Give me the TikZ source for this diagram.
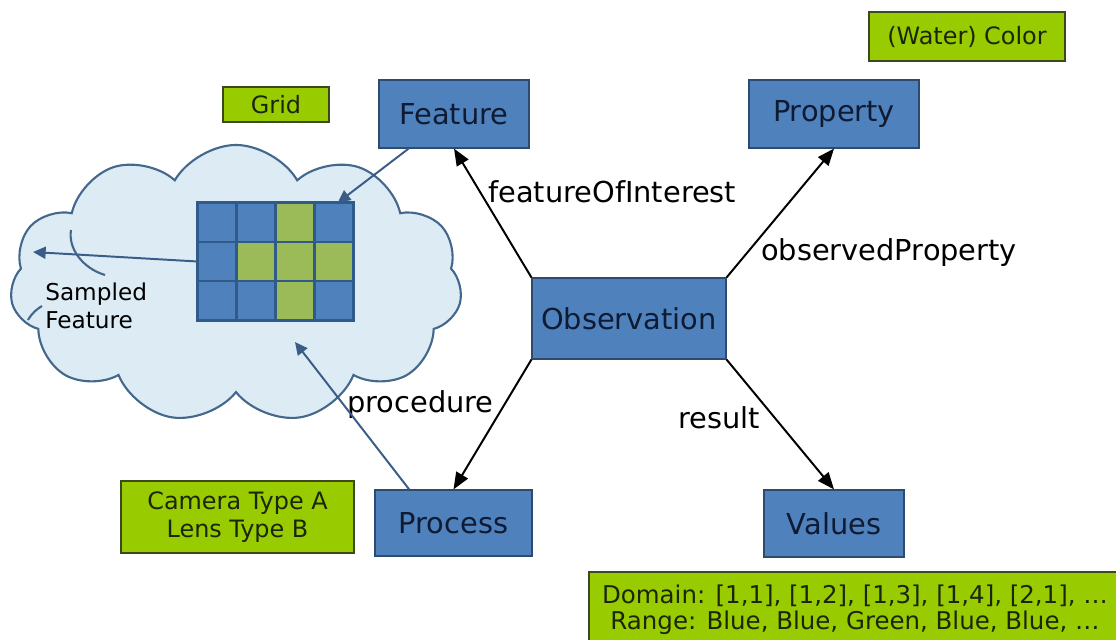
\documentclass[tikz,border=0pt]{standalone}
\usepackage{fontspec}
\setmainfont{DejaVu Sans}
\usetikzlibrary{
	arrows.meta,
	shapes.symbols,
	calc
}
\definecolor{boxblue}{HTML}{4F81BD}
\definecolor{boxline}{HTML}{2E4A6E}
\definecolor{boxtext}{HTML}{0F1A33}
\definecolor{notegreen}{HTML}{99CC00}
\definecolor{noteline}{HTML}{3B4A1E}
\definecolor{notetext}{HTML}{1B2608}
\definecolor{cloudfill}{HTML}{DDEBF5}
\definecolor{cloudline}{HTML}{44678C}
\definecolor{cellgreen}{HTML}{9BBB59}
\definecolor{gridline}{HTML}{2F5A8A}
\definecolor{linkblue}{HTML}{3A5D88}
\tikzset{
	classbox/.style={draw=boxline,thick,fill=boxblue,text=boxtext,font=\fontsize{20.5}{24}\selectfont},
	notebox/.style={draw=noteline,thick,fill=notegreen,text=notetext,align=center,font=\fontsize{17}{19.5}\selectfont},
	rolelabel/.style={anchor=base west,inner sep=0pt,font=\fontsize{20.5}{24}\selectfont},
	rolearrow/.style={->,>={Triangle[length=12pt,width=9.5pt]},line width=1.4pt},
	samplink/.style={->,>={Triangle[length=9pt,width=8.5pt]},draw=linkblue,line width=1.4pt},
	cloudstub/.style={draw=cloudline,line width=1.5pt}
}

\begin{document}
\begin{tikzpicture}[x=0.025cm,y=-0.025cm]
    \useasboundingbox (0,0) rectangle (1116,639);
    \clip (0,0) rectangle (1116,639);
    % Definitions
    \coordinate (OB) at (629,318.5);
    \coordinate (FE) at (454,114);
    \coordinate (PR) at (834,114);
    \coordinate (PC) at (453.5,523);
    \coordinate (VA) at (834,523.5);
    \coordinate (WC) at (967,36.5);
    \coordinate (GL) at (276,104.5);
    \coordinate (CT) at (237.5,517);
    \coordinate (DR) at (855,610);
    \coordinate (CL) at (236,284);
    \coordinate (GR) at (275.5,261.5);
    \coordinate (SaLe) at (33,252);
    \coordinate (SaIn) at (295,342);
    % Cloud and grid
    \node(SaFe) at (CL) [cloud,cloud puffs=11,cloud puff arc=120,aspect=1.63,draw=cloudline,line width=1.5pt,fill=cloudfill,minimum width=11.3cm,minimum height=6.95cm] {};
    \draw[cloudstub] (71,230) .. controls (68,248) and (82,268) .. (105,275);
    \draw[cloudstub] (28,320) .. controls (32,313) and (37,309) .. (42,306);
    \node(Grid) at (GR) [fill=boxblue,minimum width=3.875cm,minimum height=2.925cm] {};
    \foreach \c/\r in {3/1,2/2,3/2,4/2,3/3}
        \fill[cellgreen] ({198+(\c-1)*38.75},{203+(\r-1)*39}) rectangle +(38.75,39);
    \foreach \c in {1,2,3}
        \draw[gridline,line width=2pt] ({198+\c*38.75},203) -- +(0,117);
    \foreach \r in {1,2}
        \draw[gridline,line width=2pt] (198,{203+\r*39}) -- +(155,0);
    \draw[gridline,line width=2pt] (Grid.north west) rectangle (Grid.south east);
    \node(SaTx) at (45,306) [anchor=west,align=left,inner sep=0pt,font=\fontsize{16.5}{20}\selectfont] {Sampled\\Feature};
    % Nodes
    \node(Obse) at (OB) [classbox,minimum width=4.85cm,minimum height=2.025cm] {Observation};
    \node(Feat) at (FE) [classbox,minimum width=3.75cm,minimum height=1.7cm] {Feature};
    \node(Prop) at (PR) [classbox,minimum width=4.25cm,minimum height=1.7cm] {Property};
    \node(Proc) at (PC) [classbox,minimum width=3.925cm,minimum height=1.65cm] {Process};
    \node(Valu) at (VA) [classbox,minimum width=3.5cm,minimum height=1.675cm] {Values};
    \node(WaCo) at (WC) [notebox,minimum width=4.9cm,minimum height=1.225cm] {(Water) Color};
    \node(GrLa) at (GL) [notebox,minimum width=2.65cm,minimum height=0.875cm] {Grid};
    \node(CaTy) at (CT) [notebox,minimum width=5.825cm,minimum height=1.8cm] {Camera Type A\\Lens Type B};
    \node(DoRa) at (DR) [notebox,font=\fontsize{17.4}{18.5}\selectfont,minimum width=13.3cm,minimum height=1.9cm] {Domain: [1,1], [1,2], [1,3], [1,4], [2,1], \dots\\Range: Blue, Blue, Green, Blue, Blue, \dots};
    \node(FoIL) at (488,202) [rolelabel] {featureOfInterest};
    \node(ObPL) at (761,260) [rolelabel] {observedProperty};
    \node(PrcL) at (347,412) [rolelabel] {procedure};
    \node(ResL) at (678,428) [rolelabel] {result};
    % Arrows
    \draw[rolearrow] (Obse.north west) -- (Feat.south);
    \draw[rolearrow] (Obse.north east) -- (Prop.south);
    \draw[rolearrow] (Obse.south west) -- (Proc.north);
    \draw[rolearrow] (Obse.south east) -- (Valu.north);
    \draw[samplink] ($(Feat.south west)!0.2!(Feat.south east)$) -- ($(Grid.north west)!0.9!(Grid.north east)$);
    \draw[samplink] (Grid.west) -- (SaLe);
    \draw[samplink] ($(Proc.north west)!0.22!(Proc.north east)$) -- (SaIn);
\end{tikzpicture}
\end{document}
